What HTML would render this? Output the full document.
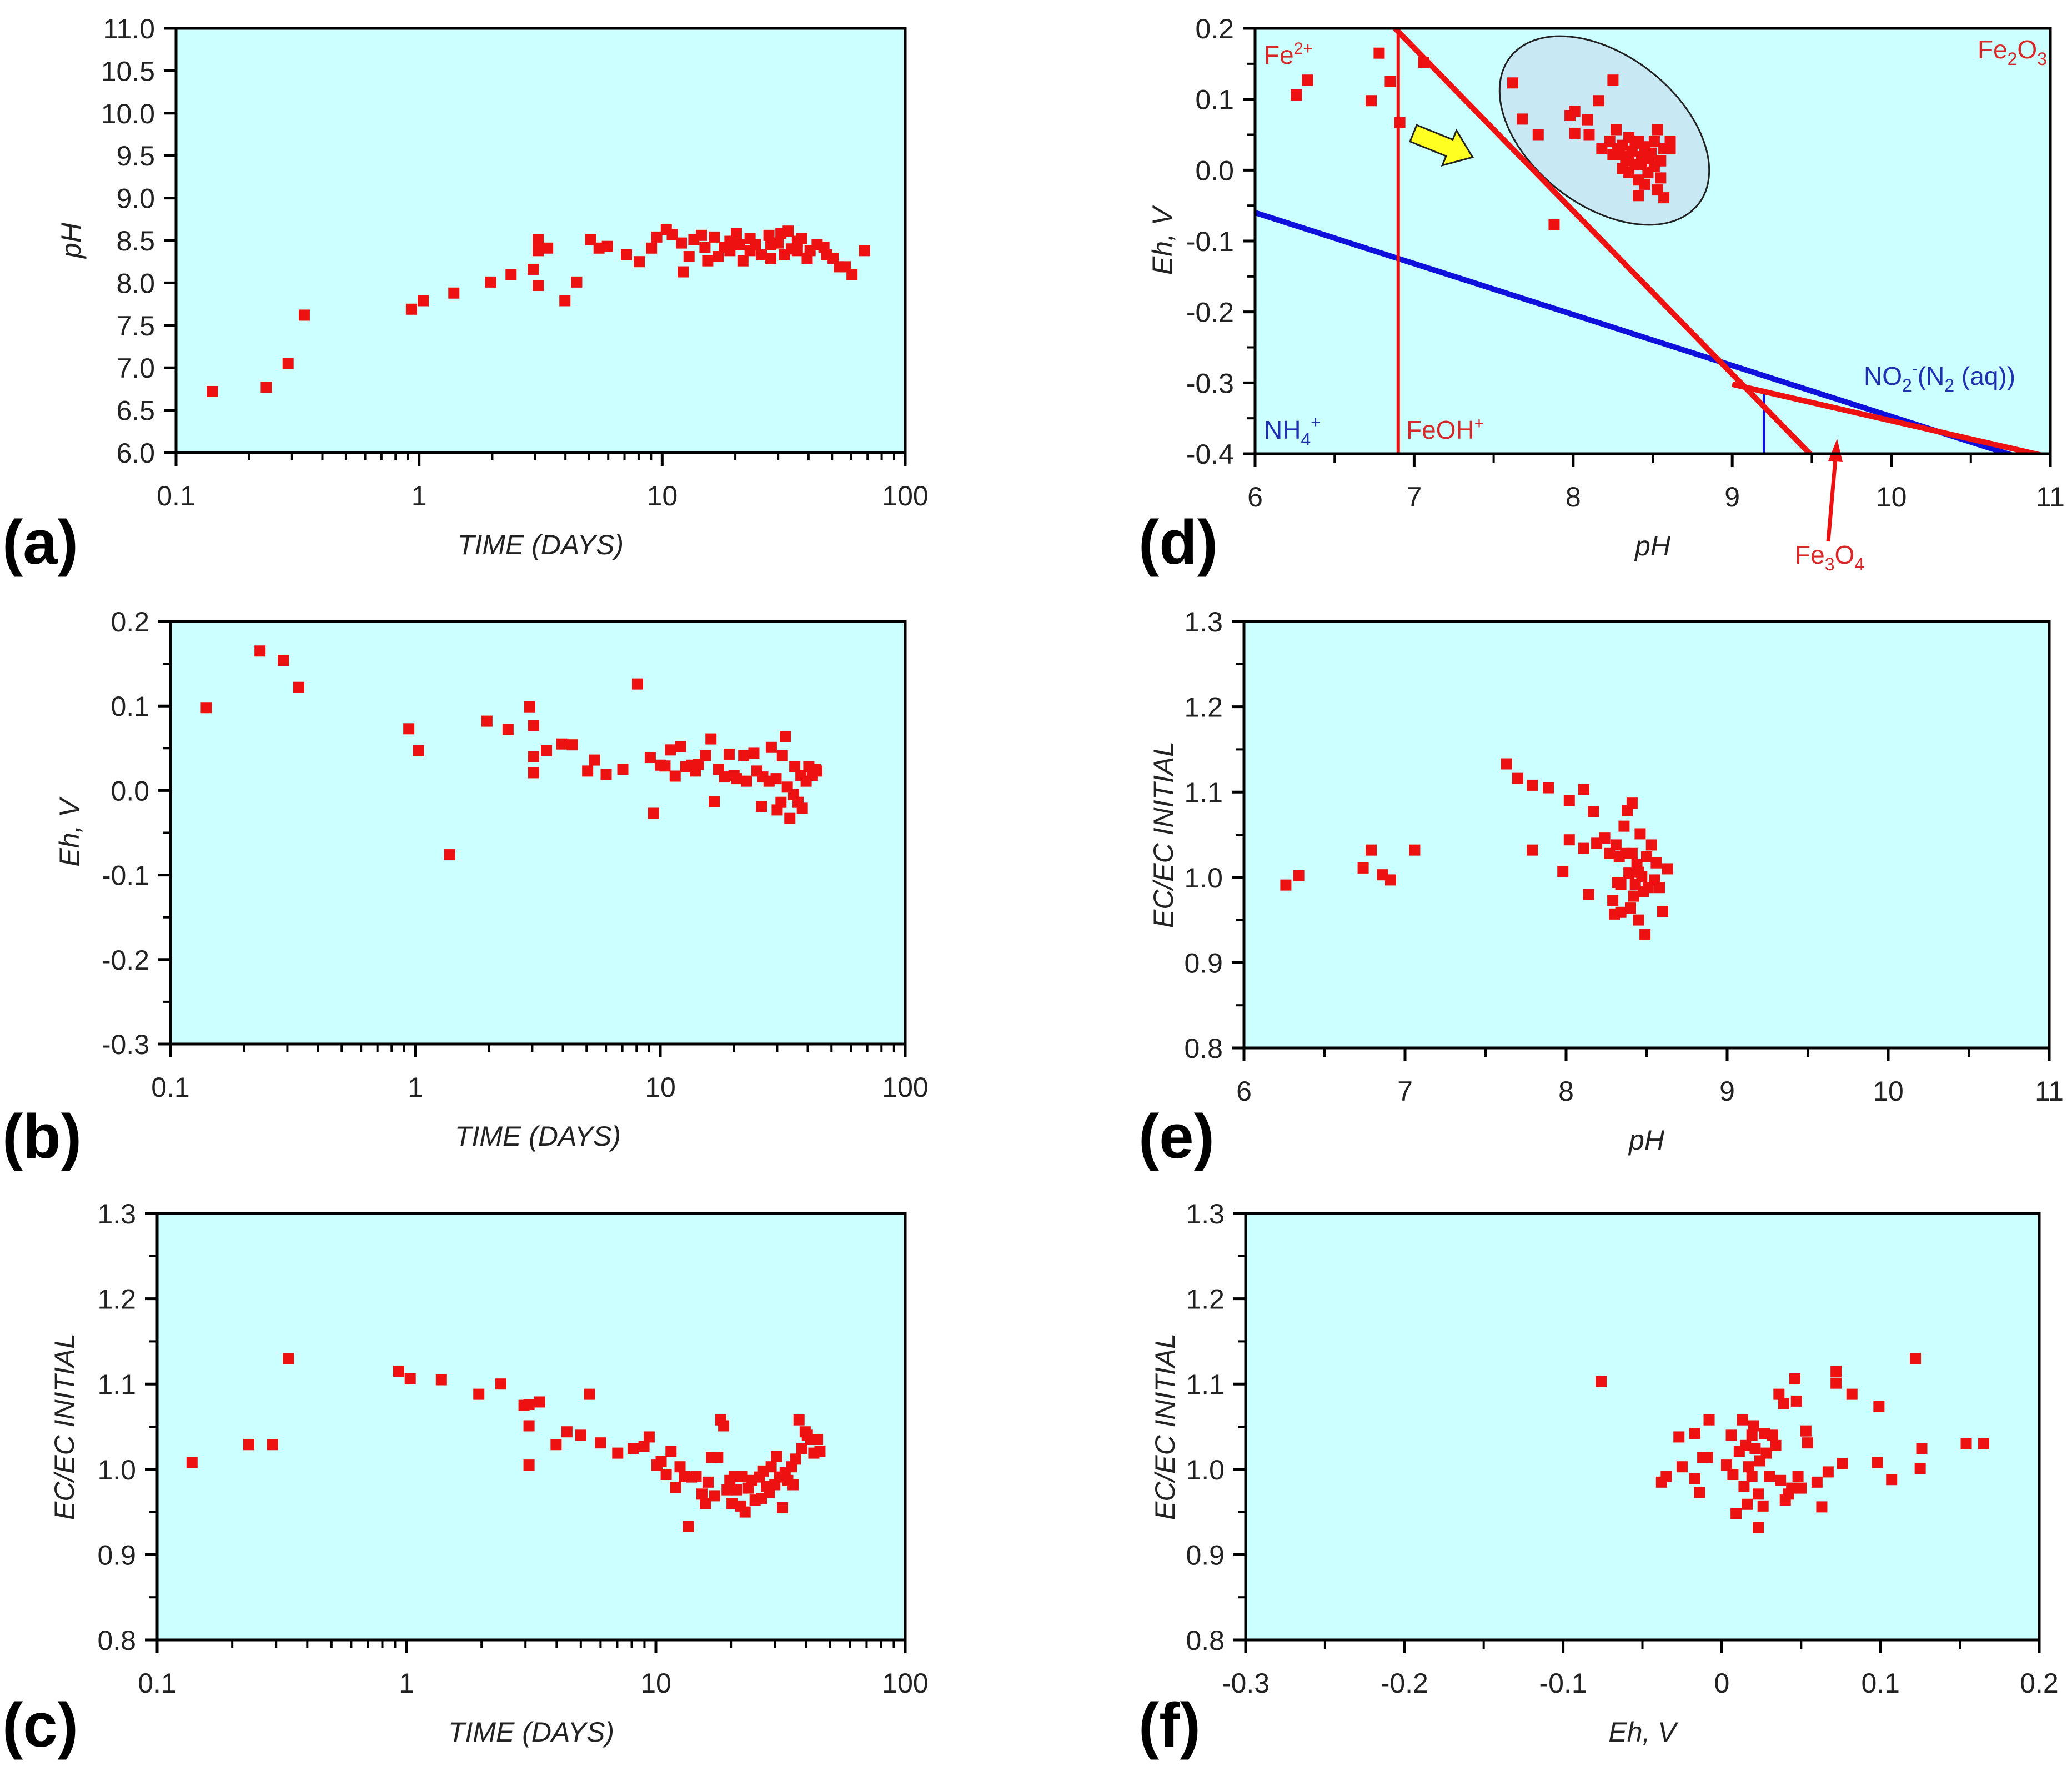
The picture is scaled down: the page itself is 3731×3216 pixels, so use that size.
<!DOCTYPE html>
<html><head><meta charset="utf-8">
<style>
html,body{margin:0;padding:0;background:#fff;}
svg{display:block;}
text{font-family:"Liberation Sans",sans-serif;}
</style></head>
<body>
<svg id="fig" width="3731" height="3216" viewBox="0 0 3731 3216" xmlns="http://www.w3.org/2000/svg"></svg>
<script>
// ---------- DATA ----------
const aTime=[0.141,0.235,0.289,0.337,0.93,1.04,1.39,1.97,2.39,2.95,3.09,3.09,3.09,3.38,3.98,4.45,5.08,5.5,5.95,7.13,8.05,9.04,9.5,10.4,11.0,12.0,12.2,12.9,13.5,14.5,15.0,15.4,16.4,17,18,19,20.2,20.8,21.5,23,24.2,25.6,27.5,28,30,30.8,31.8,33,34,36,37.5,39.5,40.6,43.4,46.3,47.5,50.5,53.6,56.7,60.4,68,23,19,28,36];
const aPH=[6.72,6.77,7.05,7.62,7.69,7.79,7.88,8.01,8.10,8.16,8.51,8.38,7.97,8.41,7.79,8.01,8.51,8.41,8.43,8.33,8.25,8.41,8.54,8.63,8.57,8.47,8.13,8.31,8.51,8.56,8.42,8.26,8.54,8.31,8.42,8.38,8.58,8.45,8.26,8.38,8.45,8.33,8.56,8.29,8.47,8.58,8.33,8.61,8.40,8.49,8.52,8.29,8.38,8.45,8.42,8.33,8.29,8.19,8.19,8.10,8.38,8.52,8.49,8.45,8.38];
const bTime=[0.140,0.232,0.289,0.334,0.94,1.03,1.38,1.96,2.39,2.93,3.04,3.04,3.04,3.43,3.96,4.37,5.05,5.39,6.01,7.03,8.07,9.1,9.38,10.0,10.45,11.0,11.5,12.1,12.7,13.4,13.9,14.3,15.3,16.1,16.6,17.3,18.3,19.1,20,20.5,21.9,22.5,24.1,24.8,25.9,26.2,27.8,28.4,29.7,30,31.1,31.5,32.4,33,33.8,35,35.4,36.5,37.5,38,39.4,40.4,41.8,42.9,43.6];
const bEh=[0.098,0.165,0.154,0.122,0.073,0.047,-0.076,0.082,0.072,0.099,0.077,0.040,0.021,0.047,0.055,0.054,0.023,0.036,0.019,0.025,0.126,0.039,-0.027,0.030,0.029,0.048,0.017,0.052,0.028,0.030,0.023,0.031,0.041,0.061,-0.013,0.025,0.016,0.043,0.018,0.014,0.041,0.011,0.044,0.023,-0.019,0.016,0.011,0.051,0.014,-0.023,-0.014,0.041,0.064,0.004,-0.033,-0.005,0.028,-0.014,0.018,-0.021,0.011,0.028,0.018,0.025,0.023];
const cTime=[0.138,0.233,0.290,0.336,0.93,1.035,1.38,1.95,2.39,2.96,3.1,3.1,3.1,3.42,3.98,4.4,5.0,5.42,6.0,7.03,8.1,8.96,9.4,10.1,10.5,11.0,11.5,12.0,12.5,13.0,13.5,13.9,14.5,15.3,15.8,16.2,16.7,17.2,17.7,18.2,18.7,19.3,19.8,20.2,20.6,21.1,21.9,22.2,22.8,23.5,24.3,25,26,26.5,27,27.8,28.5,29,30,30.5,31.3,32.2,33,33.8,35,35.5,36.3,37.5,38.5,39.7,40.5,41.8,43,44.5,45.5];
const cEC=[1.008,1.029,1.029,1.130,1.115,1.106,1.105,1.088,1.100,1.075,1.076,1.051,1.005,1.079,1.029,1.044,1.040,1.088,1.031,1.019,1.024,1.027,1.038,1.005,1.009,0.994,1.021,0.979,1.003,0.992,0.933,0.991,0.992,0.971,0.960,0.985,1.014,0.969,1.014,1.058,1.051,0.976,0.987,0.960,0.992,0.976,0.957,0.992,0.950,0.978,0.987,0.964,0.991,0.966,0.998,0.980,0.973,1.003,0.982,1.015,0.991,0.955,0.996,0.987,1.003,0.982,1.012,1.058,1.024,1.044,1.040,1.035,1.019,1.035,1.021];
const dPH=[6.26,6.33,6.73,6.78,6.85,6.91,7.06,7.62,7.68,7.78,7.88,7.98,8.01,8.09,8.01,8.16,8.25,8.10,8.18,8.23,8.27,8.29,8.31,8.33,8.35,8.37,8.39,8.41,8.43,8.45,8.47,8.49,8.51,8.53,8.55,8.57,8.61,8.35,8.41,8.45,8.41,8.53,8.57,8.55,8.31,8.25,8.39,8.43,8.48,8.35,8.28,8.51,8.61];
const dEh=[0.106,0.127,0.098,0.165,0.125,0.067,0.152,0.123,0.072,0.050,-0.077,0.077,0.083,0.071,0.052,0.098,0.127,0.050,0.030,0.041,0.057,0.022,0.035,0.013,0.046,0.027,0.008,0.041,0.019,0.033,-0.003,0.024,0.041,0.057,0.013,0.030,0.030,-0.003,-0.014,-0.020,-0.036,-0.028,-0.039,-0.011,0.002,0.022,0.038,0.008,0.016,0.019,0.030,0.005,0.041];
const ePH=[6.26,6.34,6.74,6.79,6.86,6.91,7.06,7.63,7.70,7.79,7.89,7.79,7.98,8.02,8.02,8.11,8.11,8.17,8.14,8.19,8.24,8.27,8.29,8.31,8.32,8.33,8.34,8.36,8.37,8.38,8.39,8.41,8.41,8.42,8.43,8.44,8.45,8.46,8.47,8.48,8.49,8.50,8.51,8.53,8.55,8.56,8.58,8.60,8.63,8.30,8.34,8.40,8.45];
const eEC=[0.991,1.002,1.011,1.032,1.003,0.997,1.032,1.133,1.116,1.108,1.105,1.032,1.007,1.090,1.044,1.103,1.034,1.077,0.980,1.040,1.046,1.028,0.973,1.038,0.994,1.024,0.959,1.060,1.028,1.078,1.005,1.087,1.028,0.978,0.992,1.015,0.950,1.051,1.001,0.983,0.933,1.024,0.988,1.038,0.997,1.017,0.988,0.960,1.010,0.957,0.992,0.964,1.006];
const fEh=[-0.076,-0.038,-0.035,-0.027,-0.025,-0.017,-0.014,-0.017,-0.012,-0.008,-0.009,0.003,0.006,0.007,0.009,0.011,0.013,0.014,0.015,0.016,0.017,0.019,0.019,0.020,0.021,0.023,0.023,0.024,0.026,0.027,0.028,0.030,0.032,0.034,0.036,0.037,0.039,0.040,0.042,0.044,0.046,0.047,0.048,0.050,0.053,0.054,0.060,0.063,0.067,0.072,0.072,0.076,0.082,0.099,0.098,0.107,0.122,0.126,0.125,0.154,0.165];
const fEC=[1.103,0.985,0.992,1.038,1.003,1.042,0.973,0.989,1.014,1.058,1.014,1.005,1.040,0.994,0.948,1.021,1.058,0.980,1.028,0.959,1.003,1.040,0.992,1.051,1.024,0.971,0.932,1.010,0.957,1.042,1.019,0.992,1.040,1.028,1.088,0.987,1.077,0.964,0.971,0.978,1.106,1.080,0.992,0.978,1.045,1.031,0.985,0.956,0.997,1.115,1.101,1.007,1.088,1.074,1.008,0.988,1.130,1.024,1.001,1.030,1.030];
const timeTicks=["0.1","1","10","100"];
const phTicksA=["6.0","6.5","7.0","7.5","8.0","8.5","9.0","9.5","10.0","10.5","11.0"];
const ehTicks=["-0.3","-0.2","-0.1","0.0","0.1","0.2"];
const ecTicks=["0.8","0.9","1.0","1.1","1.2","1.3"];
const phTicksX=["6","7","8","9","10","11"];
const ehTicksD=["-0.4","-0.3","-0.2","-0.1","0.0","0.1","0.2"];
const ehTicksF=["-0.3","-0.2","-0.1","0","0.1","0.2"];

// ---------- DRAW ----------
const NS="http://www.w3.org/2000/svg";
const svg=document.getElementById('fig');
function mk(tag,attrs,parent){const e=document.createElementNS(NS,tag);for(const k in attrs)e.setAttribute(k,attrs[k]);(parent||svg).appendChild(e);return e;}

function panel(p){
  const g=mk('g',{});
  
  
  const [L,T,R,B]=p.rect;
  const sx=p.xlog?(v=>L+(Math.log10(v)-Math.log10(p.xmin))/(Math.log10(p.xmax)-Math.log10(p.xmin))*(R-L)):(v=>L+(v-p.xmin)/(p.xmax-p.xmin)*(R-L));
  const sy=v=>B-(v-p.ymin)/(p.ymax-p.ymin)*(B-T);
  const bg=mk('rect',{x:L,y:T,width:R-L,height:B-T,fill:'#ccffff'},g);
  
  
  if(p.extra)p.extra(g,sx,sy);
  for(let i=0;i<p.xs.length;i++){
    const m=mk('rect',{x:sx(p.xs[i])-10,y:sy(p.ys[i])-10,width:20,height:20,fill:'#ee1111'},g);
    
    
  }
  if(p.overlay)p.overlay(g,sx,sy);
  const fr=mk('rect',{x:L,y:T,width:R-L,height:B-T,fill:'none',stroke:'#000','stroke-width':5},g);
  
  
  const xt=p.xTicks;
  if(p.xlog){
    for(let d=0;d<xt.length;d++){
      const v=parseFloat(xt[d]);
      mk('line',{x1:sx(v),x2:sx(v),y1:B,y2:B+24,stroke:'#000','stroke-width':5},g);
      const t=mk('text',{x:sx(v),y:B+95,'font-size':50,'text-anchor':'middle',fill:'#222'},g);t.textContent=xt[d];
      
      
      if(d<xt.length-1)for(let k=2;k<=9;k++)mk('line',{x1:sx(v*k),x2:sx(v*k),y1:B,y2:B+14,stroke:'#000','stroke-width':4},g);
    }
  } else {
    const n=xt.length-1;
    for(let i=0;i<=n;i++){
      const v=p.xmin+(p.xmax-p.xmin)*i/n;
      mk('line',{x1:sx(v),x2:sx(v),y1:B,y2:B+24,stroke:'#000','stroke-width':5},g);
      if(i<n){const vm=v+(p.xmax-p.xmin)/n/2;mk('line',{x1:sx(vm),x2:sx(vm),y1:B,y2:B+16,stroke:'#000','stroke-width':4},g);}
      const t=mk('text',{x:sx(v),y:B+95,'font-size':50,'text-anchor':'middle',fill:'#222'},g);t.textContent=xt[i];
      
      
    }
  }
  const yt=p.yTicks,n=yt.length-1;
  for(let i=0;i<=n;i++){
    const v=p.ymin+(p.ymax-p.ymin)*i/n;
    mk('line',{x1:L-22,x2:L,y1:sy(v),y2:sy(v),stroke:'#000','stroke-width':5},g);
    if(p.yMinor&&i<n){const vm=v+(p.ymax-p.ymin)/n/2;mk('line',{x1:L-14,x2:L,y1:sy(vm),y2:sy(vm),stroke:'#000','stroke-width':4},g);}
    const t=mk('text',{x:L-38,y:sy(v)+18,'font-size':50,'text-anchor':'end',fill:'#222'},g);t.textContent=yt[i];
    
    
  }
  const xtl=mk('text',{x:(L+R)/2,y:B+183,'font-size':50,'font-style':'italic','text-anchor':'middle',fill:'#222'},g);
  xtl.textContent=p.xTitle;
  
  
  const yx=L-p.yTitleOff,yy=(T+B)/2;
  const ytl=mk('text',{x:yx,y:yy,'font-size':50,'font-style':'italic','text-anchor':'middle',fill:'#222',transform:`rotate(-90 ${yx} ${yy})`},g);
  ytl.textContent=p.yTitle;
  
  
  const pl=mk('text',{x:p.lab[0],y:p.lab[1],'font-size':112,'font-weight':'bold',fill:'#000'},g);
  pl.textContent='('+p.id+')';
  
  
}

panel({id:'a',rect:[317,51,1630,815],xlog:true,xmin:0.1,xmax:100,ymin:6,ymax:11,xs:aTime,ys:aPH,xTicks:timeTicks,yTicks:phTicksA,yMinor:false,xTitle:'TIME (DAYS)',yTitle:'pH',yTitleOff:172,lab:[4,1015]});
panel({id:'b',rect:[307,1119,1630,1880],xlog:true,xmin:0.1,xmax:100,ymin:-0.3,ymax:0.2,xs:bTime,ys:bEh,xTicks:timeTicks,yTicks:ehTicks,yMinor:true,xTitle:'TIME (DAYS)',yTitle:'Eh, V',yTitleOff:165,lab:[4,2085]});
panel({id:'c',rect:[283,2185,1630,2953],xlog:true,xmin:0.1,xmax:100,ymin:0.8,ymax:1.3,xs:cTime,ys:cEC,xTicks:timeTicks,yTicks:ecTicks,yMinor:true,xTitle:'TIME (DAYS)',yTitle:'EC/EC INITIAL',yTitleOff:150,lab:[4,3145]});
panel({id:'e',rect:[2240,1119,3690,1887],xlog:false,xmin:6,xmax:11,ymin:0.8,ymax:1.3,xs:ePH,ys:eEC,xTicks:phTicksX,yTicks:ecTicks,yMinor:true,xTitle:'pH',yTitle:'EC/EC INITIAL',yTitleOff:128,lab:[2050,2085]});
panel({id:'f',rect:[2243,2185,3672,2953],xlog:false,xmin:-0.3,xmax:0.2,ymin:0.8,ymax:1.3,xs:fEh,ys:fEC,xTicks:ehTicksF,yTicks:ecTicks,yMinor:true,xTitle:'Eh, V',yTitle:'EC/EC INITIAL',yTitleOff:128,lab:[2050,3145]});
panel({id:'d',rect:[2260,51,3692,817],xlog:false,xmin:6,xmax:11,ymin:-0.4,ymax:0.2,xs:dPH,ys:dEh,xTicks:phTicksX,yTicks:ehTicksD,yMinor:true,xTitle:'pH',yTitle:'Eh, V',yTitleOff:150,lab:[2050,1015],
 extra:(g,sx,sy)=>{
  const el=mk('ellipse',{cx:0,cy:0,rx:215,ry:135,fill:'#c8e8f4',stroke:'#222','stroke-width':3,transform:'translate(2889,235) rotate(38)'},g);
  
  
 },
 overlay:(g,sx,sy)=>{
  const clip=mk('clipPath',{id:'dclip'},g);mk('rect',{x:2260,y:51,width:1432,height:766},clip);
  const lg=mk('g',{'clip-path':'url(#dclip)'},g);
  const ln=(x1,y1,x2,y2,c,w,name)=>{const l=mk('line',{x1:sx(x1),y1:sy(y1),x2:sx(x2),y2:sy(y2),stroke:c,'stroke-width':w},lg);};
  ln(6,-0.06,10.8,-0.405,'#1010dd',10,'nitrogen-boundary');
  ln(9.2,-0.313,9.2,-0.4,'#1010dd',5,'nitrogen-vertical');
  ln(6.9,0.2,6.9,-0.4,'#ee1111',6,'fe-vertical-boundary');
  ln(6.88,0.2,9.51,-0.405,'#ee1111',10,'fe-diagonal-boundary');
  ln(9.0,-0.302,11,-0.405,'#ee1111',10,'fe3o4-boundary');
  const ar=mk('path',{d:'M0,-16 L70,-16 L70,-34 L115,0 L70,34 L70,16 L0,16 Z',fill:'#ffff22',stroke:'#222','stroke-width':3,transform:'translate(2545,240) rotate(22)'},g);
  
  
  const fa=mk('path',{d:'M3292,975 L3306,815',stroke:'#ee1111','stroke-width':7,fill:'none'},g);
  
  
  mk('path',{d:'M3292,830 L3308,790 L3318,832 Z',fill:'#ee1111'},g);
  const lab=(x,y,html,c,anchor,name)=>{const t=mk('text',{x:x,y:y,'font-size':46,fill:c,'text-anchor':anchor||'start'},g);t.innerHTML=html;};
  lab(2276,115,'Fe<tspan dy="-18" font-size="30">2+</tspan>','#d62828','start','label-fe2');
  lab(3686,105,'Fe<tspan dy="12" font-size="32">2</tspan><tspan dy="-12">O</tspan><tspan dy="12" font-size="32">3</tspan>','#d62828','end','label-fe2o3');
  lab(2276,790,'NH<tspan dy="12" font-size="32">4</tspan><tspan dy="-32" font-size="30">+</tspan>','#2030b0','start','label-nh4');
  lab(2532,790,'FeOH<tspan dy="-18" font-size="30">+</tspan>','#d62828','start','label-feoh');
  lab(3356,693,'NO<tspan dy="12" font-size="32">2</tspan><tspan dy="-32" font-size="30">-</tspan><tspan dy="20">(N</tspan><tspan dy="12" font-size="32">2</tspan><tspan dy="-12"> (aq))</tspan>','#2030b0','start','label-no2');
  lab(3232,1015,'Fe<tspan dy="12" font-size="32">3</tspan><tspan dy="-12">O</tspan><tspan dy="12" font-size="32">4</tspan>','#d62828','start','label-fe3o4');
 }});
</script>
</body></html>
